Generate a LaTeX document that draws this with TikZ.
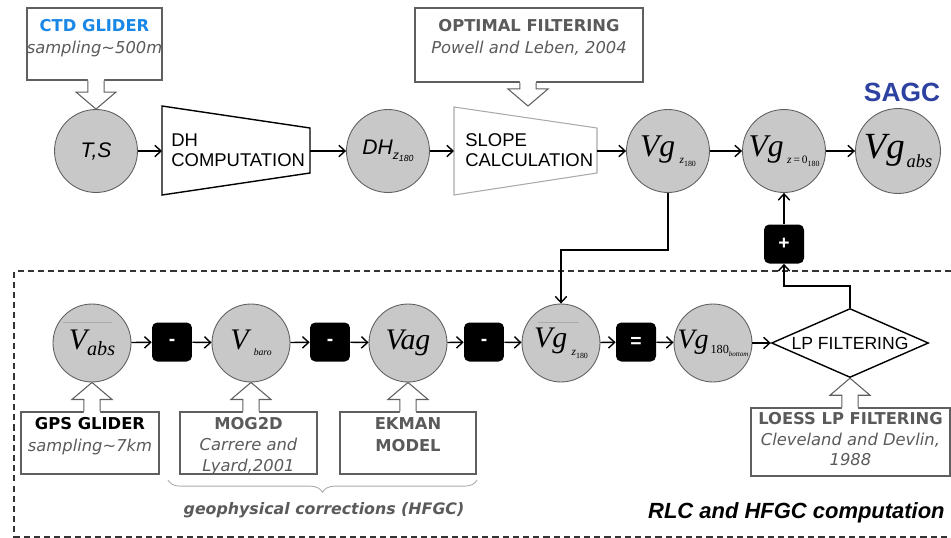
\documentclass[tikz,border=0pt]{standalone}
\usepackage{fontspec}
\setmainfont{Liberation Serif}
\newfontfamily\arial{Liberation Sans}
\newfontfamily\verd{DejaVu Sans}
\usetikzlibrary{shapes.geometric,arrows.meta,calc,decorations.pathreplacing}
\definecolor{cfill}{RGB}{200,200,200}
\definecolor{cborder}{RGB}{95,95,95}
\definecolor{bgray}{RGB}{95,95,95}
\definecolor{tgray}{RGB}{90,90,90}
\definecolor{ctdblue}{RGB}{25,135,230}
\definecolor{sagcblue}{RGB}{45,65,160}
\definecolor{lgray}{RGB}{170,170,170}
\newcommand\lbl[2]{{\fontsize{#1}{#1}\selectfont\itshape #2}}
\newcommand\hollowarrow[4]{%
  \fill[white] let \p1=(#1),\p2=(#2) in
    ({\x2-4.6pt},{\y1+(#4)}) -- ({\x2-4.6pt},{\y2+(#3)}) -- ({\x2-11.4pt},{\y2+(#3)}) -- (\x2,\y2)
    -- ({\x2+11.4pt},{\y2+(#3)}) -- ({\x2+4.6pt},{\y2+(#3)}) -- ({\x2+4.6pt},{\y1+(#4)}) -- cycle;
  \draw[hollow] let \p1=(#1),\p2=(#2) in
    ({\x2-4.6pt},\y1) -- ({\x2-4.6pt},{\y2+(#3)}) -- ({\x2-11.4pt},{\y2+(#3)}) -- (\x2,\y2)
    -- ({\x2+11.4pt},{\y2+(#3)}) -- ({\x2+4.6pt},{\y2+(#3)}) -- ({\x2+4.6pt},\y1);}
\begin{document}
\begin{tikzpicture}[x=0.02cm,y=-0.02cm,
  circ/.style={circle, draw=cborder, fill=cfill, line width=0.5pt, inner sep=0, minimum size=1.66cm},
  circs/.style={circ, minimum size=1.56cm},
  opbox/.style={rectangle, rounded corners=3pt, fill=black, minimum width=0.8cm, minimum height=0.78cm, inner sep=0, text=white, font=\arial\bfseries\fontsize{11}{11}\selectfont},
  arr/.style={-{Straight Barb[length=3.5pt,width=6.5pt]}, line width=0.8pt},
  box/.style={draw=bgray, line width=0.6pt, rectangle, inner sep=0},
  btext/.style={align=center, inner sep=0, text=tgray, font=\verd\fontsize{9.3}{12.5}\selectfont},
  hollow/.style={draw=bgray, line width=0.6pt},
  traptext/.style={align=left, anchor=west, inner sep=0, font=\arial\fontsize{10.5}{11.5}\selectfont}
]
\useasboundingbox (0,0) rectangle (951,538);

% dashed frame
\draw[line width=0.6pt, dash pattern=on 3.5pt off 2.3pt, black!80] (951,271) -- (14,271) -- (14,537) -- (951,537);

% ---- top row ----
\node[circ] (ts) at (96,151) {\arial\itshape\fontsize{12}{12}\selectfont T,S};
\coordinate (dA) at (162,106); \coordinate (dB) at (310,128);
\coordinate (dC) at (310,173); \coordinate (dD) at (162,195);
\draw[line width=0.8pt, fill=white] (dA) -- (dB) -- (dC) -- (dD) -- cycle;
\coordinate (dhin) at (162,151); \coordinate (dhout) at (310,151);
\node[traptext] (dht) at (171,150) {DH\\COMPUTATION};
\node[circ] (dh) at (388,151) {{\arial\itshape\fontsize{12}{12}\selectfont DH}\raisebox{-2.5pt}{\arial\itshape\fontsize{7}{7}\selectfont z}\raisebox{-4pt}{\arial\itshape\fontsize{5}{5}\selectfont 180}};
\coordinate (sA) at (454,107); \coordinate (sB) at (597,128);
\coordinate (sC) at (597,173); \coordinate (sD) at (454,195);
\draw[line width=0.6pt, draw=lgray, fill=white] (sA) -- (sB) -- (sC) -- (sD) -- cycle;
\coordinate (slin) at (454,151); \coordinate (slout) at (597,151);
\node[traptext] (slt) at (465,150) {SLOPE\\CALCULATION};
\node[circ] (vg1) at (668,151) {\lbl{18}{Vg}\hspace{2.5pt}\raisebox{-4.5pt}{\fontsize{6.5}{6.5}\selectfont\itshape z}\raisebox{-6pt}{\fontsize{4.5}{4.5}\selectfont 180}};
\node[circ] (vg2) at (784,151) {\lbl{18}{Vg}\hspace{2pt}\raisebox{-4.5pt}{\fontsize{6.5}{6.5}\selectfont{\itshape z}\,=\,0}\raisebox{-6pt}{\fontsize{4.5}{4.5}\selectfont 180}};
\node[circ, minimum size=1.70cm] (vgabs) at (898,151) {\lbl{21}{Vg}\hspace{1pt}\raisebox{-5.5pt}{\fontsize{10.5}{10.5}\selectfont\itshape abs}};
\node[font=\arial\bfseries\fontsize{15}{15}\selectfont, text=sagcblue, inner sep=0] (sagc) at (902,92) {SAGC};

\draw[arr] (ts) -- (dhin);
\draw[arr] (dhout) -- (dh);
\draw[arr] (dh) -- (slin);
\draw[arr] (slout) -- (vg1);
\draw[arr] (vg1) -- (vg2);
\draw[arr] (vg2) -- (vgabs);

% top boxes
\node[box, minimum width=2.7cm, minimum height=1.44cm] (ctd) at (94.5,44) {};
\node[btext, anchor=north] (ctdt) at ($(ctd.north)+(0,12)$) {{\bfseries\color{ctdblue}CTD GLIDER}\\{\itshape sampling\textasciitilde500m}};
\node[box, minimum width=4.56cm, minimum height=1.48cm] (opt) at (529,45) {};
\node[btext, anchor=north] (optt) at ($(opt.north)+(0,12)$) {{\bfseries OPTIMAL FILTERING}\\{\itshape Powell and Leben, 2004}};
\coordinate (opttip) at (528,106);
\hollowarrow{ctd.south}{ts.north}{9.7pt}{1pt}
\hollowarrow{opt.south}{opttip}{9.7pt}{1pt}

% ---- bottom row ----
\node[circs] (vabs) at (92,343) {\lbl{17}{V}\raisebox{-3.5pt}{\fontsize{11.5}{11.5}\selectfont\itshape abs}};
\draw[lgray, line width=0.4pt] ($(vabs)+(-29,-21)$) -- ($(vabs)+(20,-21)$);
\node[opbox] (m1) at (172,342) {-};
\node[circs] (vbaro) at (251,343) {\lbl{17}{V}\hspace{3pt}\raisebox{-3.5pt}{\fontsize{5.5}{5.5}\selectfont\itshape baro}};
\node[opbox] (m2) at (330,342) {-};
\node[circs] (vag) at (408,343) {\lbl{17}{Vag}};
\node[opbox] (m3) at (484,342) {-};
\node[circs] (vgl) at (561,343) {\lbl{17}{Vg}\hspace{2.5pt}\raisebox{-4.5pt}{\fontsize{6.5}{6.5}\selectfont\itshape z}\raisebox{-6pt}{\fontsize{4.5}{4.5}\selectfont 180}};
\draw[lgray, line width=0.4pt] ($(vgl)+(-23,-21)$) -- ($(vgl)+(18,-21)$);
\node[opbox] (eq) at (636,342) {=};
\node[circs] (vgb) at (713,343) {\lbl{16}{Vg}\hspace{1pt}\raisebox{-3pt}{\fontsize{7}{7}\selectfont 180}\raisebox{-4.5pt}{\fontsize{4}{4}\selectfont\itshape bottom}};
\node[diamond, draw=black, line width=0.8pt, fill=white, aspect=2.28, minimum width=3.14cm, minimum height=1.38cm, inner sep=0, font=\arial\fontsize{10}{10}\selectfont] (lp) at (850,343) {LP FILTERING};
\node[opbox] (plus) at (784,244) {+};

\draw[arr] (vabs) -- (m1);
\draw[arr] (m1) -- (vbaro);
\draw[arr] (vbaro) -- (m2);
\draw[arr] (m2) -- (vag);
\draw[arr] (vag) -- (m3);
\draw[arr] (m3) -- (vgl);
\draw[arr] (vgl) -- (eq);
\draw[arr] (eq) -- (vgb);
\draw[arr] (vgb) -- (lp);
\coordinate (j1) at (668,250);
\draw[arr] (vg1.south) -- (j1) -| (vgl.north);
\coordinate (j2) at (850,286);
\draw[arr] (lp.north) -- (j2) -| (plus.south);
\draw[arr] (plus.north) -- (vg2.south);

% bottom boxes
\node[box, minimum width=2.76cm, minimum height=1.24cm] (gps) at (90,443) {};
\node[btext, anchor=north] (gpst) at ($(gps.north)+(0,6)$) {{\bfseries\color{black}GPS GLIDER}\\{\itshape sampling\textasciitilde7km}};
\node[box, minimum width=2.74cm, minimum height=1.24cm] (mog) at (248.5,443) {};
\node[btext, anchor=north, font=\verd\fontsize{9.3}{11.8}\selectfont] (mogt) at ($(mog.north)+(0,6)$) {{\bfseries MOG2D}\\{\itshape Carrere and}\\{\itshape Lyard,2001}};
\node[box, minimum width=2.72cm, minimum height=1.24cm] (ek) at (408,443) {};
\node[btext, anchor=north] (ekt) at ($(ek.north)+(0,6)$) {{\bfseries EKMAN}\\{\bfseries MODEL}};
\node[box, minimum width=3.98cm, minimum height=1.36cm] (loess) at (850.5,442) {};
\node[btext, anchor=north, font=\verd\fontsize{9.3}{11.5}\selectfont] (loesst) at ($(loess.north)+(0,5)$) {{\bfseries LOESS LP FILTERING}\\{\itshape Cleveland and Devlin,}\\{\itshape 1988}};
\hollowarrow{gps.north}{vabs.south}{-9.7pt}{-1pt}
\hollowarrow{mog.north}{vbaro.south}{-9.7pt}{-1pt}
\hollowarrow{ek.north}{vag.south}{-9.7pt}{-1pt}
\hollowarrow{loess.north}{lp.south}{-9.7pt}{-1pt}

% brace and labels
\draw[lgray, line width=0.5pt, decorate, decoration={brace, mirror, amplitude=7pt}] (168,480) -- (477,480);
\node[inner sep=0, text=tgray, font=\verd\bfseries\itshape\fontsize{9}{9}\selectfont] (geo) at (324,510) {geophysical corrections (HFGC)};
\node[anchor=east, inner sep=0, font=\arial\bfseries\itshape\fontsize{12.5}{12.5}\selectfont] (rlc) at (945,513) {RLC and HFGC computation};
\end{tikzpicture}
\end{document}
